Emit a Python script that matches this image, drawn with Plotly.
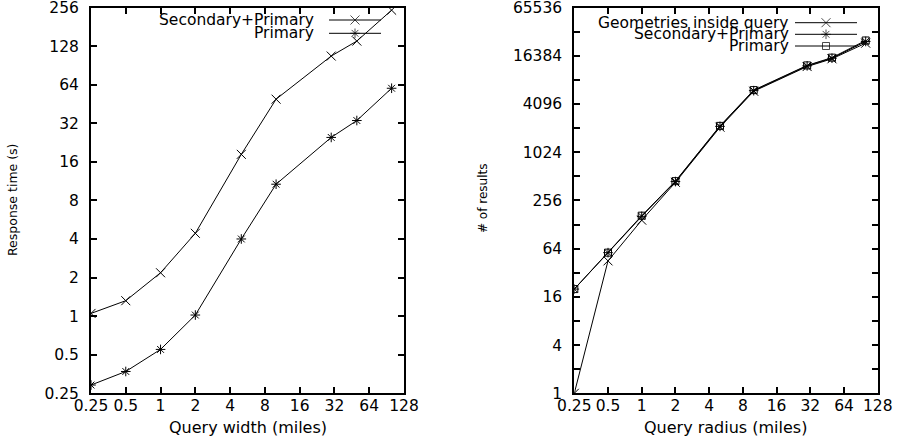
import math
import plotly.graph_objects as go

# ---------------- DATA ----------------
x_values = [0.25, 0.5, 1, 2, 5, 10, 30, 50, 100]

# Left chart: response time (s)
resp_sec_prim = [1.05, 1.32, 2.18, 4.43, 18.3, 49.3, 107, 140, 244]
resp_primary = [0.29, 0.37, 0.55, 1.02, 4.0, 10.7, 24.8, 33.6, 60]

# Right chart: number of results
res_geoms = [1, 45, 145, 430, 2100, 5900, 12000, 15000, 23500]
res_sec_prim = [20, 57, 162, 440, 2150, 6000, 12250, 15250, 24700]
res_primary = [20, 57, 165, 445, 2180, 6100, 12400, 15500, 25400]

x_ticks = [0.25, 0.5, 1, 2, 4, 8, 16, 32, 64, 128]
x_tick_labels = ["0.25", "0.5", "1", "2", "4", "8", "16", "32", "64", "128"]
left_y_ticks = [0.25, 0.5, 1, 2, 4, 8, 16, 32, 64, 128, 256]
left_y_labels = ["0.25", "0.5", "1", "2", "4", "8", "16", "32", "64", "128", "256"]
right_y_major = [1, 4, 16, 64, 256, 1024, 4096, 16384, 65536]
right_y_minor = [2, 8, 32, 128, 512, 2048, 8192, 32768]

# ---------------- LAYOUT ----------------
W, H = 898, 438
FONT = "DejaVu Sans"
EPS = 1e-6


def px(v):
    return v / W


def py(v):
    return 1 - v / H


fig = go.Figure()

line_style = dict(color="black", width=1)


def mk(symbol, size):
    return dict(symbol=symbol, size=size, color="black",
                line=dict(color="black", width=1))


# Left chart traces
fig.add_trace(go.Scatter(x=x_values, y=resp_sec_prim, mode="lines+markers",
                         line=line_style, marker=mk("x-thin", 9),
                         xaxis="x", yaxis="y", showlegend=False))
fig.add_trace(go.Scatter(x=x_values, y=resp_primary, mode="lines+markers",
                         line=line_style, marker=mk("asterisk-open", 8),
                         xaxis="x", yaxis="y", showlegend=False))

# Right chart traces
fig.add_trace(go.Scatter(x=x_values, y=res_geoms, mode="lines+markers",
                         line=line_style, marker=mk("x-thin", 9),
                         xaxis="x2", yaxis="y2", showlegend=False))
fig.add_trace(go.Scatter(x=x_values, y=res_sec_prim, mode="lines+markers",
                         line=line_style, marker=mk("asterisk-open", 8),
                         xaxis="x2", yaxis="y2", showlegend=False))
fig.add_trace(go.Scatter(x=x_values, y=res_primary, mode="lines+markers",
                         line=line_style, marker=mk("square-open", 7),
                         xaxis="x2", yaxis="y2", showlegend=False))

# gnuplot-style legends (text right, sample line + marker to the right)
legend_entries = [
    # (text, symbol, size, text_right_px, row_y_px, line_x0, line_x1)
    ("Secondary+Primary", "x-thin", 9, 315, 20, 329, 381),
    ("Primary", "asterisk-open", 8, 315, 33.3, 329, 381),
    ("Geometries inside query", "x-thin", 9, 790, 22.7, 795, 857),
    ("Secondary+Primary", "asterisk-open", 8, 790, 34.3, 795, 857),
    ("Primary", "square-open", 7, 790, 46, 795, 857),
]
annotations = []
for text, sym, size, tx, ty, lx0, lx1 in legend_entries:
    annotations.append(dict(text=text, x=px(tx), y=py(ty), xref="paper", yref="paper",
                            xanchor="right", yanchor="middle", showarrow=False,
                            borderpad=0,
                            font=dict(family=FONT, size=15.5, color="black")))
    fig.add_trace(go.Scatter(x=[lx0, (lx0 + lx1) / 2, lx1], y=[ty, ty, ty],
                             mode="lines+markers", line=line_style,
                             marker=dict(symbol=sym, size=[0, size, 0], color="black",
                                         line=dict(color="black", width=1)),
                             xaxis="x3", yaxis="y3", showlegend=False,
                             hoverinfo="skip"))

# axis titles
annotations += [
    dict(text="Query width (miles)", x=px(247.5), y=py(427), xref="paper", yref="paper",
         xanchor="center", yanchor="middle", showarrow=False,
         font=dict(family=FONT, size=16, color="black")),
    dict(text="Query radius (miles)", x=px(725.5), y=py(427), xref="paper", yref="paper",
         xanchor="center", yanchor="middle", showarrow=False,
         font=dict(family=FONT, size=16, color="black")),
    dict(text="Response time (s)", x=px(12), y=py(200), xref="paper", yref="paper",
         xanchor="center", yanchor="middle", showarrow=False, textangle=-90,
         font=dict(family=FONT, size=12.5, color="black")),
    dict(text="# of results", x=px(483), y=py(199), xref="paper", yref="paper",
         xanchor="center", yanchor="middle", showarrow=False, textangle=-90,
         font=dict(family=FONT, size=12, color="black")),
]

axis_common = dict(type="log", showline=True, linecolor="black", linewidth=2,
                   mirror="allticks", ticks="inside", ticklen=6, tickwidth=1.5,
                   tickcolor="black", showgrid=False, zeroline=False,
                   tickfont=dict(family=FONT, size=15.5, color="black"),
                   tickmode="array", automargin=False, ticklabeloverflow="allow")

y_dom = [py(393.3), py(7.5)]

fig.update_layout(
    width=W, height=H, margin=dict(l=0, r=0, t=0, b=0, pad=0, autoexpand=False),
    paper_bgcolor="white", plot_bgcolor="rgba(0,0,0,0)", showlegend=False,
    xaxis=dict(axis_common, domain=[px(91), px(404)],
               range=[math.log10(0.25) - EPS, math.log10(128) + EPS],
               tickvals=x_ticks, ticktext=x_tick_labels, anchor="y",
               ticklabelstandoff=-3),
    yaxis=dict(axis_common, domain=y_dom,
               range=[math.log10(0.25) - EPS, math.log10(256) + EPS],
               tickvals=left_y_ticks, ticktext=left_y_labels, anchor="x",
               ticklabelstandoff=7),
    xaxis2=dict(axis_common, domain=[px(574.3), px(877.7)],
                range=[math.log10(0.25) - EPS, math.log10(128) + EPS],
                tickvals=x_ticks, ticktext=x_tick_labels, anchor="y2",
                ticklabelstandoff=-3),
    yaxis2=dict(axis_common, domain=y_dom,
                range=[-EPS, math.log10(65536) + EPS],
                tickvals=right_y_major + right_y_minor,
                ticktext=[str(v) for v in right_y_major] + [""] * len(right_y_minor),
                anchor="x2", ticklabelstandoff=7),
    xaxis3=dict(domain=[0, 1], range=[0, W], visible=False, fixedrange=True,
                anchor="y3"),
    yaxis3=dict(domain=[0, 1], range=[H, 0], visible=False, fixedrange=True,
                anchor="x3"),
    annotations=annotations,
)

fig.write_html("out.html",
               config={"displayModeBar": False},
               post_script="document.body.style.margin='0';"
                           "document.body.style.overflow='hidden';")
